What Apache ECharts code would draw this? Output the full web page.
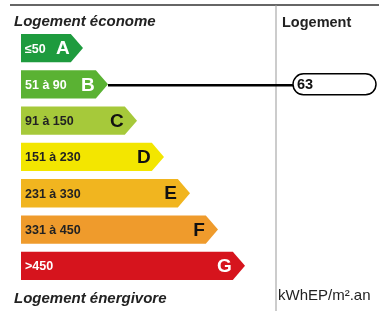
<!DOCTYPE html>
<html><head><meta charset="utf-8">
<script src="https://cdn.jsdelivr.net/npm/echarts@6/dist/echarts.min.js"></script>
<style>html,body{margin:0;padding:0;background:#fff}#c{width:379px;height:311px}</style>
</head><body><div id="c"></div>
<script>
const classes = ['A','B','C','D','E','F','G'];
const ranges = ['≤50','51 à 90','91 à 150','151 à 230','231 à 330','331 à 450','>450'];
const arrowLengths = [62, 87, 116, 143, 169, 197, 224];
const colors = ['#1e9b3e','#5ab233','#a6c93a','#f3e600','#f1b51f','#ef9b2c','#d6141d'];
const rangeColors = ['#fff','#fff','#222','#222','#222','#222','#fff'];
const letterColors = ['#fff','#fff','#111','#111','#111','#111','#fff'];
const dwellingValue = 63;
const dwellingClass = 1;

const FONT = '"Liberation Sans", Arial, sans-serif';
const chart = echarts.init(document.getElementById('c'), null, {renderer:'canvas'});
chart.setOption({
  animation:false,
  grid:{left:21, right:0, top:29.9, bottom:27},
  xAxis:{type:'value', min:0, max:358, show:false},
  yAxis:{type:'category', data:classes, inverse:true, show:false},
  graphic:[
    {type:'line', shape:{x1:10,y1:5,x2:379,y2:5}, style:{stroke:'#333',lineWidth:1.5}},
    {type:'line', shape:{x1:276,y1:5,x2:276,y2:311}, style:{stroke:'#999',lineWidth:1}},
    {type:'text', x:14, y:29, style:{text:'Logement économe', font:'italic bold 15px '+FONT, fill:'#222', textVerticalAlign:'bottom'}},
    {type:'text', x:282, y:30, style:{text:'Logement', font:'bold 14.5px '+FONT, fill:'#222', textVerticalAlign:'bottom'}},
    {type:'text', x:14, y:306, style:{text:'Logement énergivore', font:'italic bold 15px '+FONT, fill:'#222', textVerticalAlign:'bottom'}},
    {type:'text', x:278, y:303, style:{text:'kWhEP/m².an', font:'15px '+FONT, fill:'#222', textVerticalAlign:'bottom'}}
  ],
  series:[
    {
      type:'custom',
      data: classes.map((c,i)=>[i, arrowLengths[i]]),
      renderItem(params, api){
        const i = api.value(0), len = api.value(1);
        const p0 = api.coord([0, i]);
        const p1 = api.coord([len, i]);
        const h = api.size([0,1])[1]*0.78;
        const head = h*0.43;
        const y = p0[1];
        return {type:'group', children:[
          {type:'polygon', shape:{points:[[p0[0],y-h/2],[p1[0]-head,y-h/2],[p1[0],y],[p1[0]-head,y+h/2],[p0[0],y+h/2]]},
           style:{fill:colors[i]}},
          {type:'text', x:p0[0]+4, y:y+1, style:{text:ranges[i], font:'bold 12.5px '+FONT, fill:rangeColors[i], textVerticalAlign:'middle'}},
          {type:'text', x:p1[0]-head-1, y:y+1, style:{text:classes[i], font:'bold 19px '+FONT, fill:letterColors[i], textAlign:'right', textVerticalAlign:'middle'}}
        ]};
      }
    },
    {
      type:'custom',
      data:[[dwellingClass, dwellingValue]],
      renderItem(params, api){
        const i = api.value(0), v = api.value(1);
        const tip = api.coord([arrowLengths[i], i]);
        const y = tip[1] + 1;
        const px = 293, pw = 83, ph = 21;
        return {type:'group', children:[
          {type:'line', shape:{x1:tip[0], y1:y, x2:px, y2:y}, style:{stroke:'#000', lineWidth:2.5}},
          {type:'rect', shape:{x:px, y:y-ph/2-1, width:pw, height:ph, r:10.5}, style:{fill:'#fff', stroke:'#000', lineWidth:1.5}},
          {type:'text', x:px+4, y:y, style:{text:String(v), font:'bold 14.5px '+FONT, fill:'#111', textVerticalAlign:'middle'}}
        ]};
      }
    }
  ]
});
</script></body></html>
